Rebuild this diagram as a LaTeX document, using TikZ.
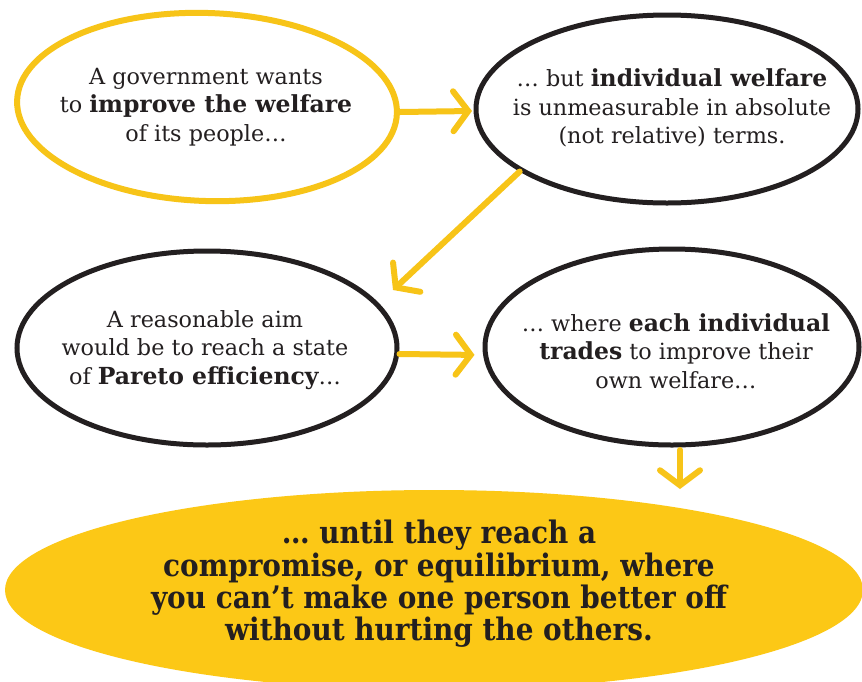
\documentclass[tikz,border=0pt]{standalone}
\usepackage{fontspec}
\setmainfont{DejaVu Serif}
\newfontfamily\condfont{DejaVu Serif Condensed}
\usetikzlibrary{shapes.geometric,arrows.meta,calc}
\definecolor{ylw}{RGB}{247,196,24}
\definecolor{fillylw}{RGB}{252,200,22}
\definecolor{ink}{RGB}{35,31,32}
\newcommand{\hb}[1]{{\bfseries\fontsize{23.5}{28.5}\selectfont #1}}
\begin{document}
\begin{tikzpicture}[x=1pt,y=-1pt,
  bubble/.style={ellipse, draw=ink, line width=5pt, inner sep=0pt},
  ybubble/.style={bubble, draw=ylw, line width=6pt},
  txt/.style={align=center, text=ink, font=\fontsize{22.3}{28.5}\selectfont},
  bigtxt/.style={align=center, text=ink, font=\condfont\bfseries\fontsize{31}{32.3}\selectfont},
  flow/.style={draw=ylw, line width=6pt, line cap=round, line join=round,
    -{Straight Barb[length=15pt, width=40pt, line width=6pt, line cap=round]}}
]
\useasboundingbox (0,0) rectangle (862,681);
\fill[white] (0,0) rectangle (862,681);

% bottom filled ellipse
\node[ellipse, fill=fillylw, minimum width=858pt, minimum height=200pt, inner sep=0pt] (e5) at (434,590) {};

\node[ybubble, minimum width=380pt, minimum height=188pt, rotate=-2] (e1) at (207,107) {};
\node[bubble, minimum width=382pt, minimum height=188pt] (e2) at (667,109) {};
\node[bubble, minimum width=380pt, minimum height=194pt] (e3) at (207,348) {};
\node[bubble, minimum width=374pt, minimum height=196pt] (e4) at (672,347) {};

\node[txt] (t1) at (206,107) {A government wants\\to \hb{improve the welfare}\\of its people…};
\node[txt] (t2) at (672,108) {… but \hb{individual welfare}\\is unmeasurable in absolute\\(not relative) terms.};
\node[txt] (t3) at (205,350) {A reasonable aim\\would be to reach a state\\of \hb{Pareto efficiency}…};
\node[txt] (t4) at (676,351) {… where \hb{each individual}\\\hb{trades} to improve their\\own welfare…};
\node[bigtxt] (t5) at (439,584) {… until they reach a\\compromise, or equilibrium, where\\you can’t make one person better off\\without hurting the others.};

\coordinate (a1beg) at (400,112);
\coordinate (a1end) at (472,111);
\coordinate (a2end) at (393,290);
\coordinate (a4beg) at (680,450);
\coordinate (a4end) at (680,489);

\draw[flow] (a1beg) -- (a1end);
\draw[flow] (e2.203) -- (a2end);
\draw[flow, shorten >=8pt] ($(e3.east)+(0,6)$) -- ($(e4.west)+(0,8)$);
\draw[flow] (a4beg) -- (a4end);
\end{tikzpicture}
\end{document}
